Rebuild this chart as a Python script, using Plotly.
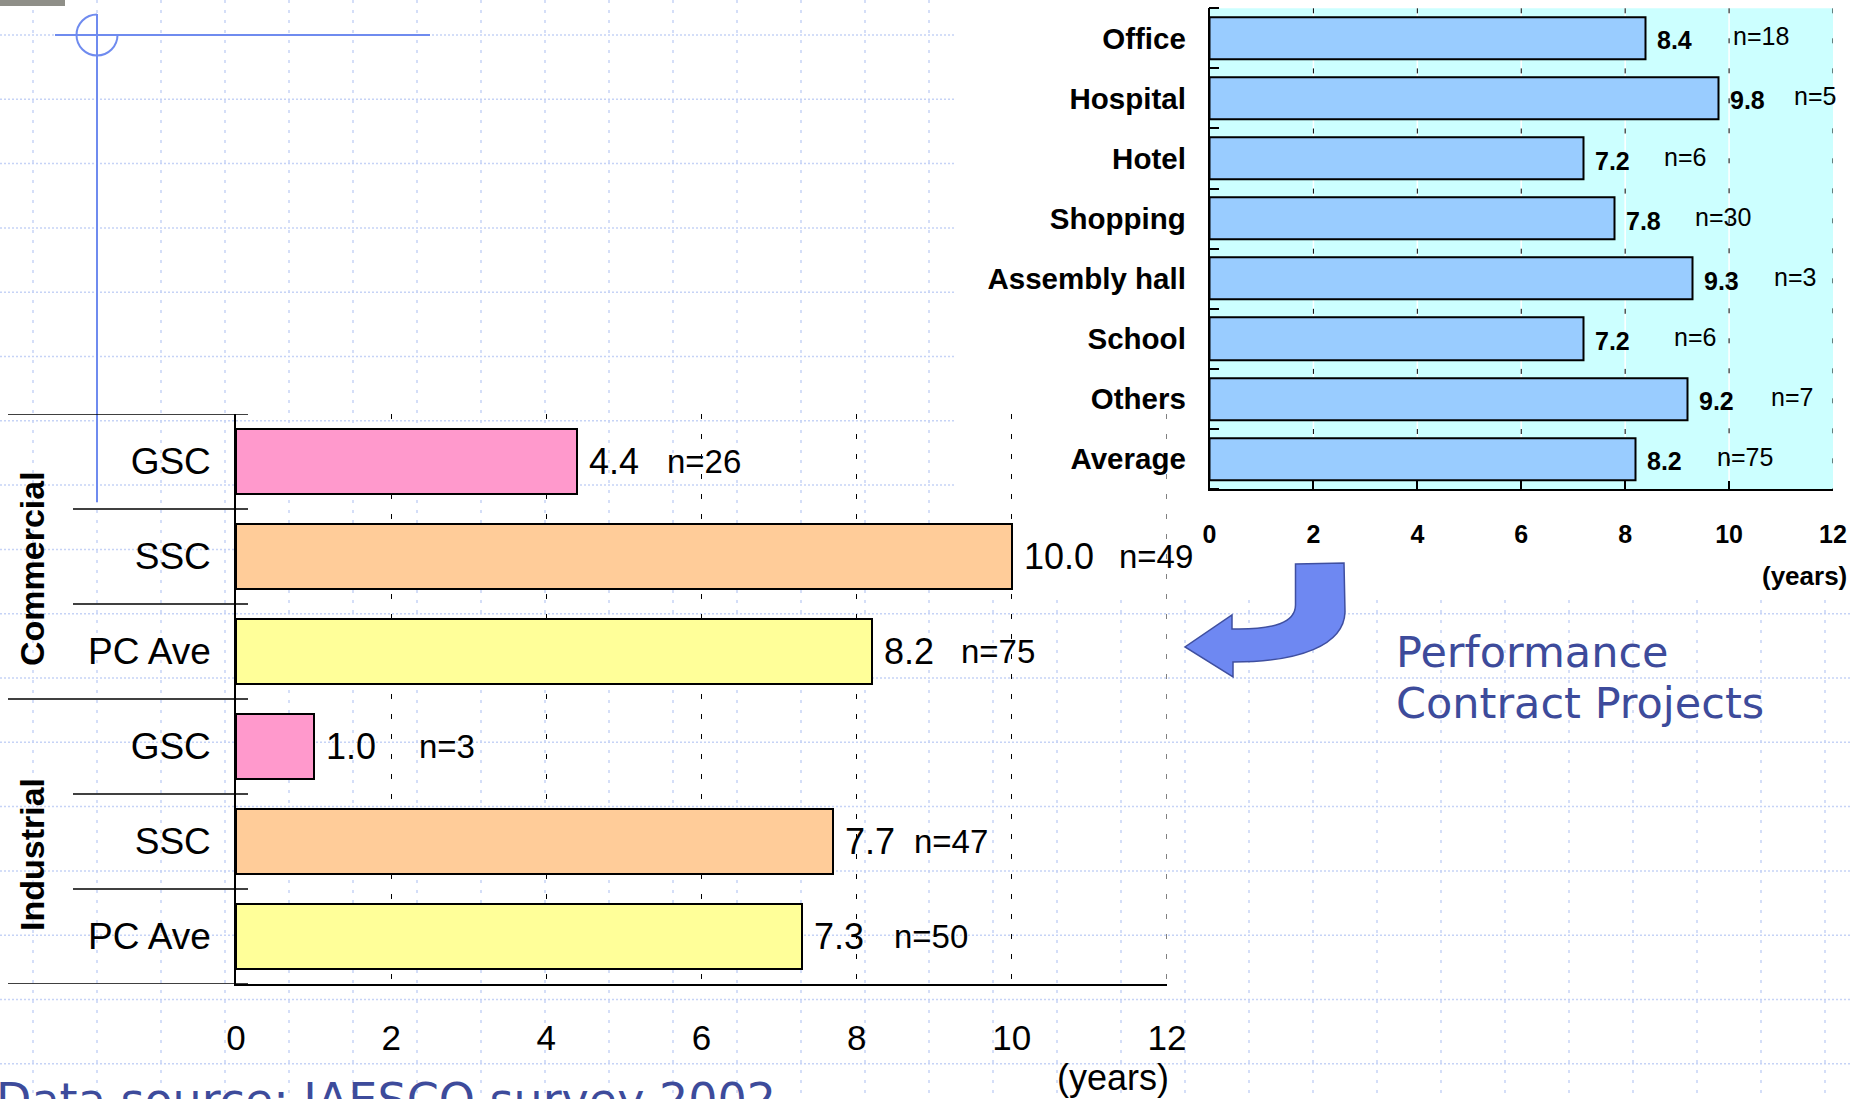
import plotly.graph_objects as go

W, H = 1852, 1099

# ---------------- data ----------------
main_groups = ["Commercial", "Industrial"]
main_types = ["GSC", "SSC", "PC Ave", "GSC", "SSC", "PC Ave"]
main_values = [4.4, 10.0, 8.2, 1.0, 7.7, 7.3]
main_n = [26, 49, 75, 3, 47, 50]
main_n_label_x = [5.53, 11.36, 9.32, 2.33, 8.71, 8.45]

pc_categories = ["Office", "Hospital", "Hotel", "Shopping", "Assembly hall",
                 "School", "Others", "Average"]
pc_values = [8.4, 9.8, 7.2, 7.8, 9.3, 7.2, 9.2, 8.2]
pc_n = [18, 5, 6, 30, 3, 6, 7, 75]
pc_n_label_x = [10.04, 11.22, 8.70, 9.31, 10.82, 8.90, 10.77, 9.72]

x_ticks = [0, 2, 4, 6, 8, 10, 12]

type_colors = {"GSC": "#FF99CC", "SSC": "#FFCC99", "PC Ave": "#FFFF99"}

FONT = "Liberation Sans, Arial, sans-serif"
SLIDE_FONT = "DejaVu Sans, Verdana, sans-serif"
SLIDE_BLUE = "#3d4b9b"


def fx(p):
    return p / W


def fy(p):
    return 1 - p / H


def P(x, y):
    return f"{fx(x):.6f},{fy(y):.6f}"


n_main = len(main_types)
n_pc = len(pc_categories)

# ---------------- traces ----------------
fig = go.Figure()

fig.add_trace(go.Bar(
    x=main_values, y=list(range(n_main)), orientation="h",
    width=0.69,
    marker=dict(color=[type_colors[t] for t in main_types],
                line=dict(color="black", width=2)),
    xaxis="x", yaxis="y", showlegend=False, hoverinfo="skip",
))

fig.add_trace(go.Bar(
    x=pc_values, y=list(range(n_pc)), orientation="h", width=0.70,
    marker=dict(color="#99CCFF", line=dict(color="black", width=2)),
    xaxis="x2", yaxis="y2", showlegend=False, hoverinfo="skip",
))

# ---------------- shapes ----------------
shapes = []
# slide background dotted grid
for k in range(29):
    x = 33 + 64 * k
    shapes.append(dict(type="line", xref="paper", yref="paper", layer="below",
                       x0=fx(x), x1=fx(x), y0=fy(0), y1=fy(H),
                       line=dict(color="#c6d3f6", width=1.5, dash="3px,7px")))
for k in range(17):
    y = 35 + 64.3 * k
    shapes.append(dict(type="line", xref="paper", yref="paper", layer="below",
                       x0=fx(0), x1=fx(W), y0=fy(y), y1=fy(y),
                       line=dict(color="#c6d3f6", width=1.5, dash="2px,2px")))
# white backdrop of the inserted picture
shapes.append(dict(type="rect", xref="paper", yref="paper", layer="below",
                   x0=fx(954), x1=fx(W), y0=fy(600), y1=fy(0),
                   line=dict(width=0), fillcolor="white"))
# grey fragment at top left
shapes.append(dict(type="rect", xref="paper", yref="paper", layer="below",
                   x0=fx(0), x1=fx(65), y0=fy(6), y1=fy(0),
                   line=dict(width=0), fillcolor="#8f8f88"))
# crosshair decoration
CB = "#6f8bef"
shapes.append(dict(type="line", xref="paper", yref="paper", layer="below",
                   x0=fx(97), x1=fx(97), y0=fy(14), y1=fy(502),
                   line=dict(color=CB, width=2)))
shapes.append(dict(type="line", xref="paper", yref="paper", layer="below",
                   x0=fx(55), x1=fx(430), y0=fy(35), y1=fy(35),
                   line=dict(color=CB, width=2)))
cx, cy, r = 97, 35, 20.5
kk = 0.5523 * r
arc = (f"M {P(cx, cy - r)} C {P(cx - kk, cy - r)} {P(cx - r, cy - kk)} {P(cx - r, cy)} "
       f"C {P(cx - r, cy + kk)} {P(cx - kk, cy + r)} {P(cx, cy + r)} "
       f"C {P(cx + kk, cy + r)} {P(cx + r, cy + kk)} {P(cx + r, cy)}")
shapes.append(dict(type="path", xref="paper", yref="paper", layer="below",
                   path=arc, line=dict(color=CB, width=2)))

# cyan plot area of the small chart
shapes.append(dict(type="rect", xref="x2 domain", yref="y2 domain", layer="below",
                   x0=0, x1=1, y0=0, y1=1, line=dict(width=0),
                   fillcolor="#CCFFFF"))
# white grid lines + dashed marks of the small chart
for t in x_ticks[1:-1]:
    shapes.append(dict(type="line", xref="x2", yref="y2 domain", layer="below",
                       x0=t, x1=t, y0=1, y1=0,
                       line=dict(color="white", width=1.5)))
for t in x_ticks[1:]:
    dash = "5px,55.1px" if t < 10 else "5px,25px"
    shapes.append(dict(type="line", xref="x2", yref="y2 domain", layer="below",
                       x0=t, x1=t, y0=1, y1=0,
                       line=dict(color="black", width=1, dash=dash)))
# right edge dashed line of main chart
shapes.append(dict(type="line", xref="x", yref="y domain", layer="below",
                   x0=x_ticks[-1], x1=x_ticks[-1], y0=1, y1=0,
                   line=dict(color="black", width=1, dash="5px,15px")))

# category separators of main chart
per_group = n_main // len(main_groups)
for k in range(n_main + 1):
    left = 8 if k % per_group == 0 else 73
    shapes.append(dict(type="line", xref="paper", yref="y", layer="above",
                       x0=fx(left), x1=fx(248), y0=k - 0.5, y1=k - 0.5,
                       line=dict(color="black", width=1.5)))

# curved arrow
arrow = (f"M {P(1295.5, 564)} L {P(1344, 563)} L {P(1345, 612)} "
         f"C {P(1344, 645)} {P(1300, 662)} {P(1233, 662)} "
         f"L {P(1233, 677)} L {P(1185, 647)} L {P(1232, 615)} L {P(1232, 629)} "
         f"C {P(1275, 630)} {P(1295.5, 622)} {P(1295.5, 605)} Z")
shapes.append(dict(type="path", xref="paper", yref="paper", layer="above",
                   path=arrow, fillcolor="#6e88f2",
                   line=dict(color="#3f4fa0", width=1.5)))

# ---------------- annotations ----------------
ann = []
for i, (v, n, nx) in enumerate(zip(main_values, main_n, main_n_label_x)):
    ann.append(dict(x=v, y=i, xref="x", yref="y", text=f"{v:.1f}",
                    xanchor="left", yanchor="middle", xshift=10, showarrow=False,
                    font=dict(family=FONT, size=36, color="black")))
    ann.append(dict(x=nx, y=i, xref="x", yref="y", text=f"n={n}",
                    xanchor="left", yanchor="middle", showarrow=False,
                    font=dict(family=FONT, size=33, color="black")))

for i, (v, n, nx) in enumerate(zip(pc_values, pc_n, pc_n_label_x)):
    ann.append(dict(x=v, y=i, xref="x2", yref="y2", text=f"{v:.1f}",
                    xanchor="left", yanchor="middle", xshift=9, yshift=-2,
                    showarrow=False,
                    font=dict(family=FONT, size=25, color="black", weight="bold")))
    ann.append(dict(x=nx, y=i, xref="x2", yref="y2", text=f"n={n}",
                    xanchor="left", yanchor="middle", yshift=2, showarrow=False,
                    font=dict(family=FONT, size=25, color="black")))

group_centers_px = [569, 855]
for g, gy in zip(main_groups, group_centers_px):
    ann.append(dict(x=fx(32), y=fy(gy), xref="paper", yref="paper", text=g,
                    textangle=-90, xanchor="center", yanchor="middle",
                    showarrow=False,
                    font=dict(family=FONT, size=34, color="black", weight="bold")))

ann.append(dict(x=1, y=fy(1077), xref="x domain", yref="paper", text="(years)",
                xanchor="right", yanchor="middle", xshift=4, showarrow=False,
                font=dict(family=FONT, size=36, color="black")))
ann.append(dict(x=1, y=fy(576), xref="x2 domain", yref="paper", text="(years)",
                xanchor="right", yanchor="middle", xshift=16, showarrow=False,
                font=dict(family=FONT, size=26, color="black", weight="bold")))

for line, ly in zip(["Performance", "Contract Projects"], [652, 703]):
    ann.append(dict(x=fx(1394), y=fy(ly), xref="paper", yref="paper",
                    text=line, align="left",
                    xanchor="left", yanchor="middle", showarrow=False,
                    font=dict(family=SLIDE_FONT, size=43, color=SLIDE_BLUE)))
ann.append(dict(x=fx(0), y=fy(1071), xref="paper", yref="paper",
                text="Data source: IAESCO survey 2002", align="left",
                xanchor="left", yanchor="top", xshift=-6, showarrow=False,
                font=dict(family=SLIDE_FONT, size=46, color=SLIDE_BLUE)))

# ---------------- layout ----------------
fig.update_layout(
    width=W, height=H, autosize=False,
    margin=dict(l=0, r=0, t=0, b=0, pad=0, autoexpand=False),
    paper_bgcolor="white", plot_bgcolor="rgba(0,0,0,0)",
    bargap=0, showlegend=False,
    xaxis=dict(domain=[fx(236), fx(1167)], anchor="y", range=[0, 12],
               automargin=False,
               tickvals=x_ticks, showgrid=True, gridcolor="black", gridwidth=1,
               griddash="5px,15px", zeroline=False, showline=True,
               linecolor="black", linewidth=1.5, ticks="",
               ticklabelstandoff=22,
               tickfont=dict(family=FONT, size=35, color="black")),
    yaxis=dict(domain=[fy(984), fy(414)], anchor="x",
               range=[n_main - 0.5, -0.5], automargin=False,
               tickvals=list(range(n_main)), ticktext=main_types,
               showgrid=False, zeroline=False, showline=True,
               linecolor="black", linewidth=1.5, ticks="",
               ticklabelstandoff=16,
               tickfont=dict(family=FONT, size=37, color="black")),
    xaxis2=dict(domain=[fx(1209.5), fx(1833)], anchor="y2", range=[0, 12],
                automargin=False,
                tickvals=x_ticks, showgrid=False,
                zeroline=False, showline=True, linecolor="black", linewidth=1.5,
                ticks="inside", ticklen=8, tickcolor="black", tickwidth=1.5,
                ticklabelstandoff=22,
                tickfont=dict(family=FONT, size=25, color="black", weight="bold")),
    yaxis2=dict(domain=[fy(489), fy(8.3)], anchor="x2",
                range=[n_pc - 0.5, -0.5], automargin=False,
                tickvals=list(range(n_pc)), ticktext=pc_categories,
                showgrid=False, zeroline=False,
                showline=True, linecolor="black", linewidth=1.5,
                ticks="", ticklabelstandoff=16,
                minor=dict(tickvals=[k - 0.5 for k in range(n_pc + 1)],
                           ticks="inside", ticklen=10, tickcolor="black",
                           tickwidth=1.5, showgrid=False),
                tickfont=dict(family=FONT, size=29.5, color="black", weight="bold")),
    shapes=shapes,
    annotations=ann,
)

fig.write_html("out.html", config={"displayModeBar": False},
               post_script="document.body.style.margin='0px';"
                           "document.body.style.overflow='hidden';")
